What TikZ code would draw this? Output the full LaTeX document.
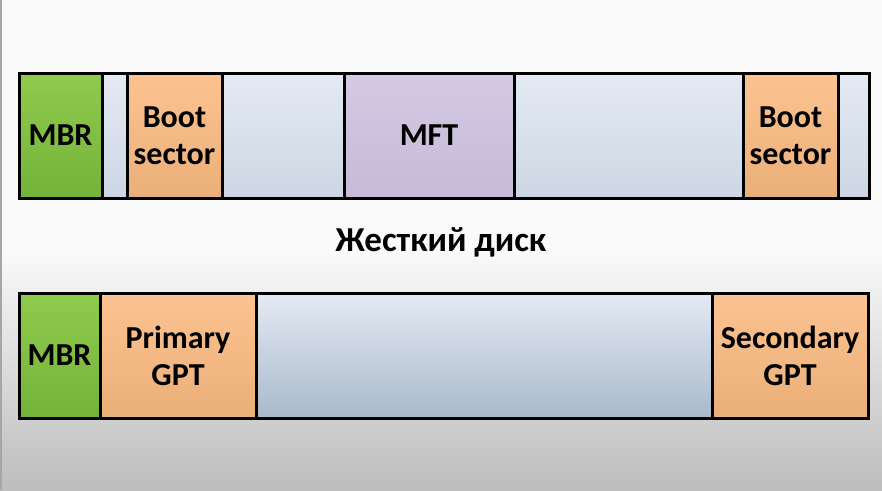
\documentclass[tikz,border=0pt]{standalone}
\usepackage{fontspec}
\setmainfont{Carlito}

\definecolor{mbrtop}{HTML}{8FCB4C}
\definecolor{mbrbot}{HTML}{74B23A}
\definecolor{boottop}{HTML}{FCC391}
\definecolor{bootbot}{HTML}{EBAF78}
\definecolor{mfttop}{HTML}{D4CAE2}
\definecolor{mftbot}{HTML}{C6BAD8}
\definecolor{freetop}{HTML}{E4EAF4}
\definecolor{freebot}{HTML}{A9B9C9}

\tikzset{
  seg/.style={rectangle, draw=black, line width=3pt, inner sep=0pt, outer sep=0pt,
    anchor=north west, minimum height=125pt, align=center,
    font=\fontsize{32}{37}\selectfont\bfseries},
  mbrseg/.style={seg, top color=mbrtop, bottom color=mbrbot},
  bootseg/.style={seg, top color=boottop, bottom color=bootbot},
  mftseg/.style={seg, top color=mfttop, bottom color=mftbot},
  freeseg/.style={seg, top color=freetop, bottom color=freetop!60!freebot},
  freegpt/.style={seg, top color=freetop, bottom color=freebot}
}

\begin{document}
\begin{tikzpicture}[x=1pt, y=-1pt]
      \useasboundingbox (0,0) rectangle (882,490);
      \fill[white!98!black] (0,0) rectangle (882,250);
      \shade[top color=white!98!black, bottom color=white!74!black] (0,250) rectangle (882,490);
      \fill[gray!70] (0,0) rectangle (2,490);

      % disk with NTFS
      \node[freeseg, minimum width=25pt] at (102,73) (gap1_ntfs) {};
      \node[freeseg, minimum width=122pt] at (222,73) (gap2_ntfs) {};
      \node[freeseg, minimum width=229pt] at (514,73) (gap3_ntfs) {};
      \node[freeseg, minimum width=31pt] at (838,73) (gap4_ntfs) {};
      \node[mbrseg, minimum width=83pt] at (19,73) (mbr_ntfs) {MBR};
      \node[bootseg, minimum width=95pt] at (127,73) (boot_ntfs) {Boot\\sector};
      \node[mftseg, minimum width=170pt] at (344,73) (mft_ntfs) {MFT};
      \node[bootseg, minimum width=95pt] at (743,73) (bootcopy_ntfs) {Boot\\sector};

      \node[font=\fontsize{35}{40}\selectfont\bfseries] at (441,242) (disk_label) {Жесткий диск};

      % --------------------------------------------------------------------------
      \node[freegpt, minimum width=456pt] at (256,293) (gap_gpt) {};
      \node[mbrseg, minimum width=81pt] at (19,293) (mbr_gpt) {MBR};
      \node[bootseg, minimum width=156pt] at (100,293) (primary_gpt) {Primary\\GPT};
      \node[bootseg, minimum width=156pt] at (712,293) (secondary_gpt) {Secondary\\GPT};
    \end{tikzpicture}
\end{document}
